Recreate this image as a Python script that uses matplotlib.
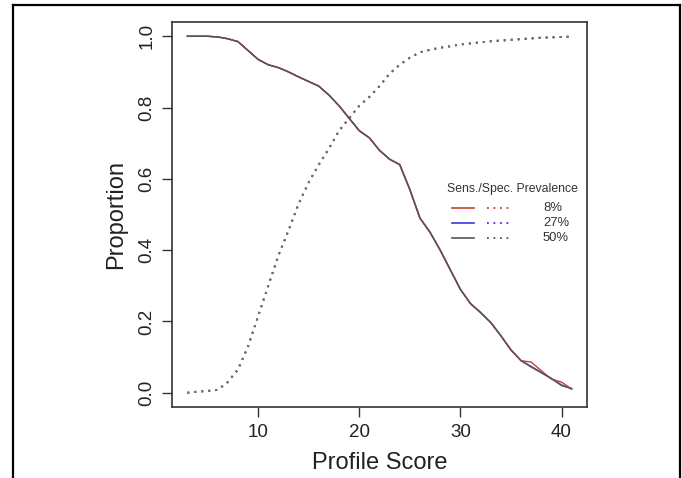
import matplotlib
matplotlib.use("Agg")
import matplotlib.pyplot as plt
from matplotlib.lines import Line2D

plt.rcParams['font.family'] = ['Liberation Sans', 'DejaVu Sans']

score = list(range(3, 42))

sens_50 = [1.0, 1.0, 1.0, 0.998, 0.993, 0.985, 0.96, 0.935, 0.92, 0.912, 0.90, 0.886,
           0.873, 0.86, 0.835, 0.805, 0.77, 0.735, 0.715, 0.68, 0.655, 0.64, 0.57, 0.49,
           0.45, 0.40, 0.345, 0.29, 0.25, 0.225, 0.197, 0.16, 0.12, 0.09, 0.072, 0.056,
           0.04, 0.02, 0.012]
sens_27 = sens_50[:34] + [0.074, 0.057, 0.04, 0.022, 0.011]
sens_8 = sens_50[:34] + [0.086, 0.062, 0.038, 0.03, 0.01]

spec_50 = [0.0, 0.003, 0.005, 0.008, 0.03, 0.065, 0.13, 0.215, 0.30, 0.385, 0.455, 0.53,
           0.59, 0.64, 0.685, 0.735, 0.77, 0.805, 0.83, 0.86, 0.895, 0.92, 0.94, 0.955,
           0.962, 0.968, 0.972, 0.977, 0.98, 0.983, 0.986, 0.988, 0.99, 0.992, 0.994,
           0.996, 0.997, 0.998, 0.999]
spec_27 = list(spec_50)
spec_8 = list(spec_50)

prevalence = ['8%', '27%', '50%']
colors = ['#d23a3a', '#3a3ad2', '#555555']

W, H = 682, 478
fig = plt.figure(figsize=(W / 100, H / 100), dpi=100)
ax = fig.add_axes([172 / W, 1 - 407 / H, (587 - 172) / W, (407 - 22) / H])

sens = [sens_8, sens_27, sens_50]
spec = [spec_8, spec_27, spec_50]
for s in spec:
    ax.plot(score, s, color='#6e6e6e', lw=1.4, linestyle=(0, (1, 2.6)))
ax.plot(score, sens_27, color=colors[1], lw=1.0)
ax.plot(score, sens_8, color=colors[0], lw=1.0)
ax.plot(score, sens_50, color=colors[2], lw=1.1, alpha=0.9)

ax.set_xlim(3 - 0.04 * 38, 41 + 0.04 * 38)
ax.set_ylim(-0.04, 1.04)
ax.set_xticks([10, 20, 30, 40])
ax.set_yticks([0.0, 0.2, 0.4, 0.6, 0.8, 1.0])
ax.set_yticklabels(['0.0', '0.2', '0.4', '0.6', '0.8', '1.0'], rotation=90, va='center')
ax.tick_params(axis='both', labelsize=13.5, length=7, width=1.0, color='#333333',
               labelcolor='#222222', pad=5)
for sp in ax.spines.values():
    sp.set_color('#333333')
    sp.set_linewidth(1.2)
ax.set_xlabel('Profile Score', fontsize=17, color='#222222', labelpad=8)
ax.set_ylabel('Proportion', fontsize=17, color='#222222', labelpad=8)

# legend (manual, R style)
def fx(px):
    return px / W

def fy(py):
    return 1 - py / H

fig.text(fx(447), fy(189), 'Sens./Spec. Prevalence', fontsize=8.8, color='#333333',
         va='center', ha='left')
rows = [208, 223, 238]
for lab, c, ry in zip(prevalence, colors, rows):
    fig.add_artist(Line2D([fx(452), fx(474)], [fy(ry), fy(ry)], color=c, lw=1.2))
    fig.add_artist(Line2D([fx(487), fx(509)], [fy(ry), fy(ry)], color=c, lw=1.3,
                          linestyle=(0, (1, 2.6))))
    fig.text(fx(543), fy(ry), lab, fontsize=9.4, color='#333333', va='center', ha='left')

# outer frame
fig.add_artist(Line2D([fx(13), fx(13)], [0, fy(5)], color='black', lw=1.6))
fig.add_artist(Line2D([fx(13), fx(680)], [fy(5), fy(5)], color='black', lw=1.6))
fig.add_artist(Line2D([fx(680), fx(680)], [0, fy(5)], color='black', lw=1.6))

fig.savefig('out.png', dpi=100)
